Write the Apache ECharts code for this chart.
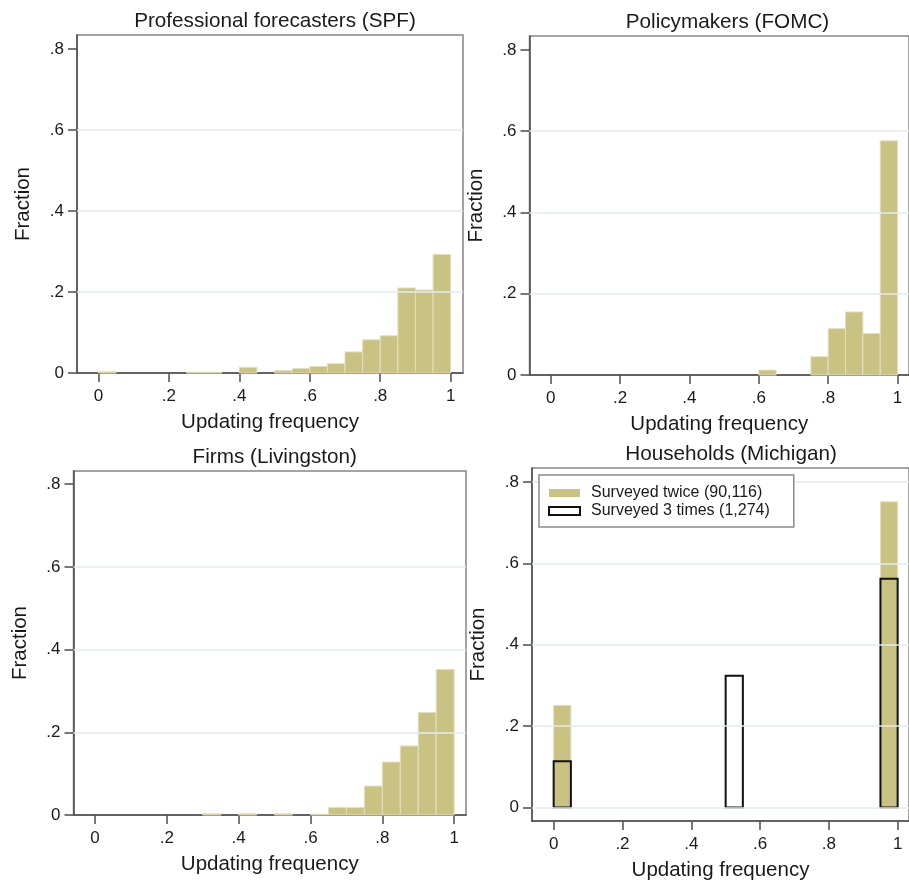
<!DOCTYPE html>
<html>
<head>
<meta charset="utf-8">
<script src="https://cdn.jsdelivr.net/npm/echarts@6/dist/echarts.min.js"></script>
<style>
html, body { margin: 0; background: #fff; }
#chart { width: 909px; height: 882px; }
</style>
</head>
<body>
<div id="chart"></div>
<script>
// histogram bins are 0.05 wide; each array holds bin starts and the fraction in that bin
const binWidth = 0.05
const xTicks = [0, 0.2, 0.4, 0.6, 0.8, 1]
const yTicks = [0, 0.2, 0.4, 0.6, 0.8]
const histGrid = [0.2, 0.4, 0.6]
const michGrid = [0, 0.2, 0.4, 0.6, 0.8]

const spfBins = [0, 0.25, 0.3, 0.4, 0.5, 0.55, 0.6, 0.65, 0.7, 0.75, 0.8, 0.85, 0.9, 0.95]
const spfFrac = [0.003, 0.002, 0.002, 0.014, 0.006, 0.011, 0.016, 0.023, 0.052, 0.082, 0.092, 0.21, 0.205, 0.293]

const fomcBins = [0.6, 0.75, 0.8, 0.85, 0.9, 0.95]
const fomcFrac = [0.012, 0.045, 0.114, 0.155, 0.102, 0.576]

const livBins = [0.3, 0.4, 0.5, 0.6, 0.65, 0.7, 0.75, 0.8, 0.85, 0.9, 0.95]
const livFrac = [0.003, 0.003, 0.003, 0.002, 0.018, 0.018, 0.07, 0.128, 0.167, 0.248, 0.352]

const michTwiceBins = [0, 0.95]
const michTwiceFrac = [0.251, 0.751]
const michThriceBins = [0, 0.5, 0.95]
const michThriceFrac = [0.114, 0.324, 0.562]

const legendNames = ['Surveyed twice (90,116)', 'Surveyed 3 times (1,274)']

const barColor = '#cac282'
const barEdge = '#e2dfbf'
const ink = '#1a1a1a'
const axisColor = '#4d4d4d'
const font = 'Arial, "Liberation Sans", sans-serif'

const panels = [
  { title: 'Professional forecasters (SPF)', left: 77, top: 35, width: 386, height: 338, x: [-0.061, 1.035], y: [0, 0.835], grid: histGrid },
  { title: 'Policymakers (FOMC)', left: 529.5, top: 36, width: 386, height: 339, x: [-0.061, 1.033], y: [0, 0.834], grid: histGrid },
  { title: 'Firms (Livingston)', left: 73.5, top: 471, width: 392.5, height: 344, x: [-0.06, 1.033], y: [0, 0.832], grid: histGrid },
  { title: 'Households (Michigan)', left: 532, top: 468, width: 388, height: 354, x: [-0.063, 1.033], y: [-0.033, 0.834], grid: michGrid }
]

const fmt = v => String(Math.round(v * 10) / 10).replace(/^0\./, '.')

function toPairs(bins, vals) { return bins.map((b, i) => [b, vals[i]]) }

function renderBar(params, api) {
  const x0 = api.value(0), h = api.value(1)
  const a = api.coord([x0, 0])
  const b = api.coord([x0 + binWidth, h])
  return {
    type: 'rect',
    shape: { x: a[0], y: b[1], width: b[0] - a[0], height: a[1] - b[1] },
    style: api.style()
  }
}

function barSeries(i, bins, vals, name, style) {
  return {
    type: 'custom', name, xAxisIndex: i, yAxisIndex: i, z: 3,
    renderItem: renderBar, encode: { x: 0, y: 1 },
    itemStyle: style || { color: barColor, borderColor: barEdge, borderWidth: 1 },
    data: toPairs(bins, vals)
  }
}

const series = []
panels.forEach((p, i) => {
  series.push({
    type: 'line', xAxisIndex: i, yAxisIndex: i, data: [], silent: true, z: 1,
    markLine: {
      symbol: 'none', silent: true, label: { show: false },
      lineStyle: { color: '#e1ebf0', width: 1.5, type: 'solid' },
      data: p.grid.map(v => ({ yAxis: v }))
    }
  })
})
series.push(barSeries(0, spfBins, spfFrac))
series.push(barSeries(1, fomcBins, fomcFrac))
series.push(barSeries(2, livBins, livFrac))
series.push(barSeries(3, michTwiceBins, michTwiceFrac, legendNames[0]))
series.push(barSeries(3, michThriceBins, michThriceFrac, legendNames[1],
  { color: 'rgba(255,255,255,0)', borderColor: '#111', borderWidth: 2 }))

const chart = echarts.init(document.getElementById('chart'))
chart.setOption({
  animation: false,
  backgroundColor: '#fff',
  textStyle: { fontFamily: font },
  title: panels.map(p => ({
    text: p.title, left: p.left + p.width / 2, top: p.top - 29, textAlign: 'center',
    textStyle: { fontSize: 20.7, fontWeight: 'normal', color: ink, fontFamily: font }
  })),
  grid: panels.map(p => ({
    left: p.left, top: p.top, width: p.width, height: p.height,
    show: true, borderColor: '#858585', borderWidth: 1.5, backgroundColor: '#fff'
  })),
  xAxis: panels.map((p, i) => ({
    type: 'value', gridIndex: i, min: p.x[0], max: p.x[1],
    name: 'Updating frequency', nameLocation: 'middle', nameGap: 39,
    nameTextStyle: { fontSize: 20.5, color: ink, fontFamily: font },
    axisLine: { show: true, onZero: false, lineStyle: { color: axisColor, width: 1.5 } },
    axisTick: { show: true, length: 9, customValues: xTicks, lineStyle: { color: axisColor, width: 1.5 } },
    axisLabel: { customValues: xTicks, formatter: fmt, fontSize: 17, color: ink, margin: 15 },
    splitLine: { show: false }
  })),
  yAxis: panels.map((p, i) => ({
    type: 'value', gridIndex: i, min: p.y[0], max: p.y[1],
    name: 'Fraction', nameLocation: 'middle', nameGap: 43, nameRotate: 90,
    nameTextStyle: { fontSize: 20.5, color: ink, fontFamily: font },
    axisLine: { show: true, onZero: false, lineStyle: { color: axisColor, width: 1.5 } },
    axisTick: { show: true, length: 9, customValues: yTicks, lineStyle: { color: axisColor, width: 1.5 } },
    axisLabel: { customValues: yTicks, formatter: fmt, fontSize: 17, color: ink, margin: 13 },
    splitLine: { show: false }
  })),
  legend: {
    orient: 'vertical', left: 539, top: 475, z: 10,
    backgroundColor: '#fff', borderColor: '#8a8a8a', borderWidth: 1.5,
    padding: [10, 24, 8, 9], itemWidth: 31, itemHeight: 8, itemGap: 2,
    textStyle: { fontSize: 16, color: ink, padding: [0, 0, 0, 6], fontFamily: font },
    data: [
      { name: legendNames[0], icon: 'rect', itemStyle: { color: barColor, borderWidth: 0 } },
      { name: legendNames[1], icon: 'rect', itemStyle: { color: '#fff', borderColor: '#111', borderWidth: 2 } }
    ]
  },
  series
})
</script>
</body>
</html>
